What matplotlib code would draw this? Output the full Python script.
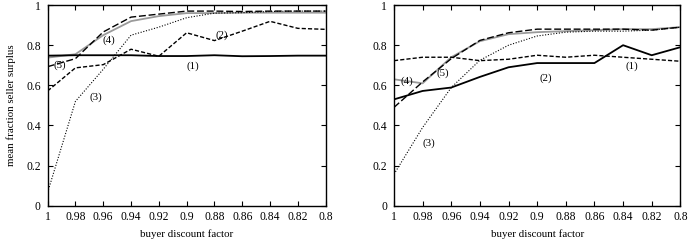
import numpy as np
import matplotlib
matplotlib.use("Agg")
import matplotlib.pyplot as plt
from matplotlib.ticker import FuncFormatter

plt.rcParams["font.family"] = ["Liberation Serif", "DejaVu Serif"]
plt.rcParams["font.size"] = 7.8

discount = [1.0, 0.98, 0.96, 0.94, 0.92, 0.90, 0.88, 0.86, 0.84, 0.82, 0.80]

# left panel
left_1 = [0.748, 0.750, 0.750, 0.750, 0.746, 0.746, 0.750, 0.745, 0.746, 0.748, 0.748]
left_2 = [0.572, 0.687, 0.703, 0.780, 0.745, 0.862, 0.823, 0.870, 0.919, 0.884, 0.879]
left_3 = [0.066, 0.520, 0.680, 0.850, 0.890, 0.937, 0.960, 0.962, 0.968, 0.970, 0.970]
left_4 = [0.738, 0.755, 0.850, 0.920, 0.945, 0.960, 0.960, 0.962, 0.962, 0.962, 0.962]
left_5 = [0.693, 0.733, 0.866, 0.940, 0.955, 0.970, 0.970, 0.968, 0.970, 0.970, 0.970]

# right panel
right_1 = [0.723, 0.740, 0.740, 0.723, 0.730, 0.750, 0.740, 0.750, 0.740, 0.730, 0.720]
right_2 = [0.530, 0.572, 0.589, 0.642, 0.690, 0.711, 0.711, 0.711, 0.800, 0.750, 0.790]
right_3 = [0.157, 0.390, 0.589, 0.725, 0.800, 0.846, 0.865, 0.870, 0.870, 0.875, 0.890]
right_4 = [0.630, 0.610, 0.740, 0.820, 0.855, 0.865, 0.870, 0.875, 0.880, 0.880, 0.890]
right_5 = [0.490, 0.617, 0.733, 0.824, 0.862, 0.880, 0.880, 0.880, 0.880, 0.875, 0.890]

labels = ["(1)", "(2)", "(3)", "(4)", "(5)"]
left_label_pos = [(0.8957, 0.697), (0.875, 0.850), (0.965, 0.542), (0.956, 0.827), (0.991, 0.698)]
right_label_pos = [(0.834, 0.697), (0.894, 0.635), (0.976, 0.313), (0.991, 0.620), (0.966, 0.658)]

fig = plt.figure(figsize=(6.9, 2.42), dpi=100)
axl = fig.add_axes([0.069, 0.150, 0.403, 0.829])
axr = fig.add_axes([0.571, 0.150, 0.415, 0.829])

def style(ax):
    ax.set_xlim(1.0, 0.8)
    ax.set_ylim(0, 1)
    ax.set_xticks(discount)
    ax.set_yticks([0, 0.2, 0.4, 0.6, 0.8, 1.0])
    fmt = FuncFormatter(lambda v, p: "%g" % round(v, 2))
    ax.xaxis.set_major_formatter(fmt)
    ax.yaxis.set_major_formatter(fmt)
    ax.tick_params(direction="in", length=3.5, width=0.8, top=True, right=True,
                   labelsize=8.4)
    ax.tick_params(axis="x", pad=4)
    ax.tick_params(axis="y", pad=5)
    for s in ax.spines.values():
        s.set_linewidth(1.0)
    ax.set_xlabel("buyer discount factor", labelpad=4.5)

# left panel
axl.plot(discount, left_4, color="#9a9a9a", lw=1.3)
axl.plot(discount, left_1, color="black", lw=1.3)
axl.plot(discount, left_2, color="black", lw=1.0, dashes=(3, 1.5))
axl.plot(discount, left_3, color="black", lw=0.8, dashes=(1, 1.5))
axl.plot(discount, left_5, color="black", lw=1.0, dashes=(5, 2))
for lab, (x, y) in zip(labels, left_label_pos):
    axl.text(x, y, lab, ha="center", va="center")
style(axl)
axl.set_ylabel("mean fraction seller surplus", labelpad=7)

# right panel
axr.plot(discount, right_4, color="#9a9a9a", lw=1.3)
axr.plot(discount, right_2, color="black", lw=1.3)
axr.plot(discount, right_1, color="black", lw=1.0, dashes=(3, 1.5))
axr.plot(discount, right_3, color="black", lw=0.8, dashes=(1, 1.5))
axr.plot(discount, right_5, color="black", lw=1.0, dashes=(5, 2))
for lab, (x, y) in zip(labels, right_label_pos):
    axr.text(x, y, lab, ha="center", va="center")
style(axr)

fig.savefig("out.png", dpi=100)
